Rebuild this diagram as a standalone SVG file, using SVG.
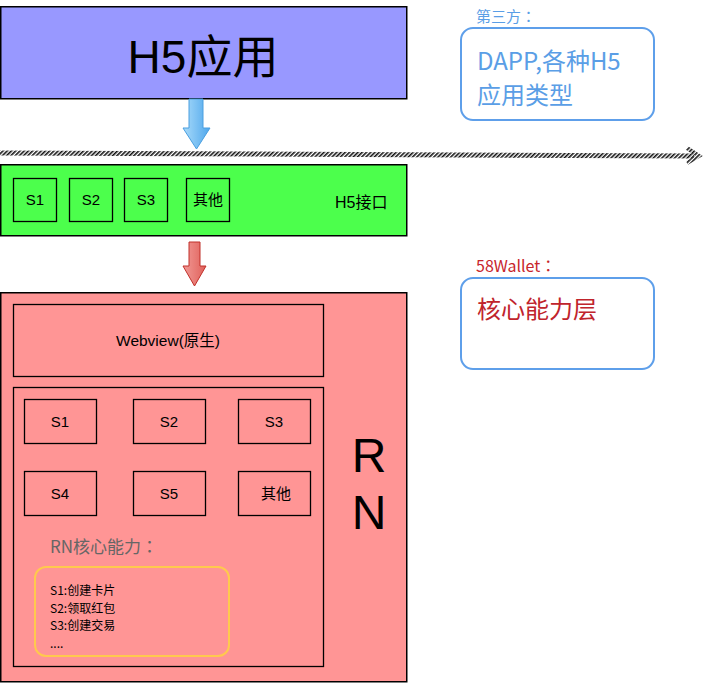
<svg xmlns="http://www.w3.org/2000/svg" width="704" height="683" viewBox="0 0 704 683">
<defs>
<style>
.lat{font-family:"Liberation Sans","Noto Sans CJK SC",Arial,sans-serif;}
.cjk{font-family:"Noto Sans CJK SC","Noto Sans",sans-serif;}
.col{font-family:"Noto Sans CJK TC","Noto Sans CJK SC",sans-serif;}
.box{stroke:#000;stroke-width:1.5;}
.inner{fill:none;stroke:#000;stroke-width:1.3;}
</style>
<pattern id="hatch" patternUnits="userSpaceOnUse" width="3" height="3" patternTransform="rotate(45)">
<rect x="0" y="0" width="1.6" height="3" fill="#111"/>
</pattern>
<linearGradient id="blueG" x1="0" y1="0" x2="1" y2="0">
<stop offset="0" stop-color="#a9dbfa"/>
<stop offset="1" stop-color="#4fa7ec"/>
</linearGradient>
<linearGradient id="redG" x1="0" y1="0" x2="1" y2="0">
<stop offset="0" stop-color="#f19a96"/>
<stop offset="1" stop-color="#e0605a"/>
</linearGradient>
</defs>
<rect width="704" height="683" fill="#fff"/>

<g id="h5app">
<rect x="0.75" y="6.75" width="406" height="92" fill="#9898ff" class="box"/>
<text x="203" y="73" text-anchor="middle" class="lat" font-size="46" fill="#000">H5应用</text>
</g>

<g id="h5api">
<rect x="0.75" y="164.75" width="406" height="71" fill="#4cff4c" class="box"/>
<rect x="13.5" y="178.5" width="43" height="43" class="inner"/>
<text x="35" y="205" text-anchor="middle" class="lat" font-size="15">S1</text>
<rect x="69.5" y="178.5" width="43" height="43" class="inner"/>
<text x="91" y="205" text-anchor="middle" class="lat" font-size="15">S2</text>
<rect x="124.5" y="178.5" width="43" height="43" class="inner"/>
<text x="146" y="205" text-anchor="middle" class="lat" font-size="15">S3</text>
<rect x="186.5" y="178.5" width="43" height="43" class="inner"/>
<text x="208" y="205" text-anchor="middle" class="lat" font-size="15">其他</text>
<text x="335" y="208" class="lat" font-size="16">H5接口</text>
</g>

<g id="rn">
<rect x="0.75" y="292.75" width="406" height="389" fill="#ff9595" class="box"/>
<text x="369" y="472" text-anchor="middle" class="lat" font-size="48">R</text>
<text x="369" y="529" text-anchor="middle" class="lat" font-size="48">N</text>
</g>

<g id="webview">
<rect x="13.5" y="304.5" width="310" height="72" class="inner"/>
<text x="168" y="346" text-anchor="middle" class="lat" font-size="15.5">Webview(原生)</text>
</g>

<g id="rncore">
<rect x="13.5" y="387.5" width="310" height="279" class="inner"/>
<rect x="24.5" y="399.5" width="72" height="44" class="inner"/>
<text x="60" y="427" text-anchor="middle" class="lat" font-size="15">S1</text>
<rect x="133.5" y="399.5" width="72" height="44" class="inner"/>
<text x="169" y="427" text-anchor="middle" class="lat" font-size="15">S2</text>
<rect x="238.5" y="399.5" width="72" height="44" class="inner"/>
<text x="274" y="427" text-anchor="middle" class="lat" font-size="15">S3</text>
<rect x="24.5" y="471.5" width="72" height="44" class="inner"/>
<text x="60" y="499" text-anchor="middle" class="lat" font-size="15">S4</text>
<rect x="133.5" y="471.5" width="72" height="44" class="inner"/>
<text x="169" y="499" text-anchor="middle" class="lat" font-size="15">S5</text>
<rect x="238.5" y="471.5" width="72" height="44" class="inner"/>
<text x="276" y="499" text-anchor="middle" class="lat" font-size="15">其他</text>
<text x="50" y="553" class="cjk" font-size="17" fill="#666">RN核心能力<tspan class="col">：</tspan></text>
</g>

<g id="list">
<rect x="35" y="567" width="194" height="89" rx="11" fill="none" stroke="#ffc94d" stroke-width="2"/>
<text x="50" y="595" class="cjk" font-size="12" fill="#000">S1:创建卡片</text>
<text x="50" y="612.5" class="cjk" font-size="12" fill="#000">S2:领取红包</text>
<text x="50" y="630" class="cjk" font-size="12" fill="#000">S3:创建交易</text>
<text x="50" y="647.5" class="cjk" font-size="12" fill="#000">....</text>
</g>

<g id="thirdparty">
<text x="476" y="22" class="cjk" font-size="15" fill="#5a9ee6">第三方<tspan class="col">：</tspan></text>
<rect x="461" y="28" width="193" height="92" rx="12" fill="#fff" stroke="#5e9fea" stroke-width="2"/>
<text x="477" y="70" class="cjk" font-size="24" fill="#5a9ee6">DAPP,各种H5</text>
<text x="477" y="104" class="cjk" font-size="24" fill="#5a9ee6">应用类型</text>
</g>

<g id="wallet">
<text x="476" y="272" class="cjk" font-size="16" fill="#c8252c">58Wallet<tspan class="col">：</tspan></text>
<rect x="461" y="278" width="193" height="91" rx="12" fill="#fff" stroke="#5e9fea" stroke-width="2"/>
<text x="477" y="318" class="cjk" font-size="24" fill="#c0242c">核心能力层</text>
</g>

<g id="connectors">
<path d="M0,153 L694,156" stroke="url(#hatch)" stroke-width="5" fill="none"/>
<path d="M687,148 L699,156 L687,163" stroke="url(#hatch)" stroke-width="4" fill="none"/>
<polygon points="189,99 203,99 203,128 210,128 196.5,149 183,128 189,128" fill="url(#blueG)" stroke="#4a9fe0" stroke-width="1"/>
<polygon points="189,242 200,242 200,266 206,266 194.5,286 183,266 189,266" fill="url(#redG)" stroke="#c0302a" stroke-width="1"/>
</g>
</svg>
